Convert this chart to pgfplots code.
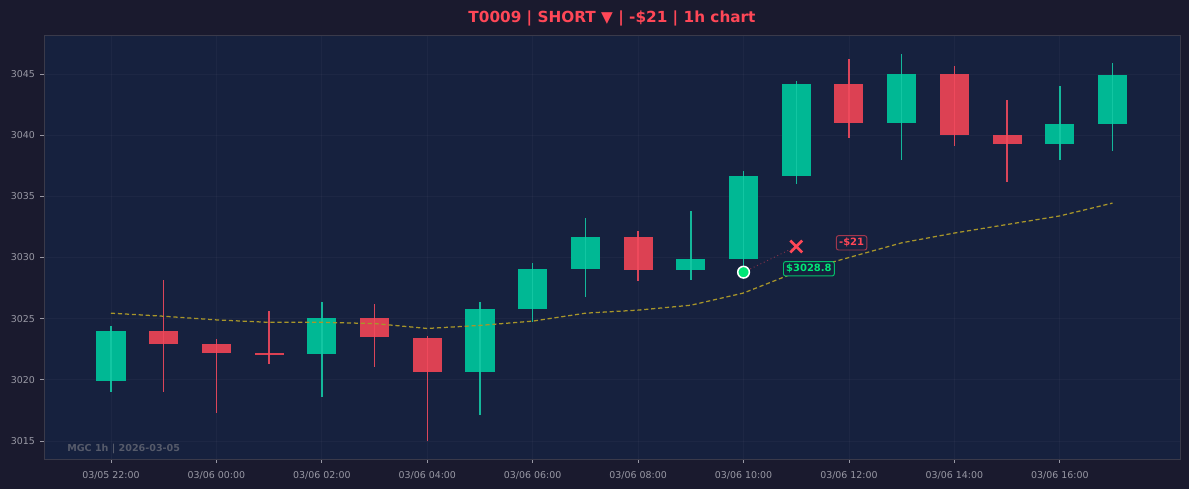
\documentclass[border=0pt]{standalone}
\usepackage{fontspec}
\setmainfont{DejaVu Sans}
\usepackage{pgfplots}
\pgfplotsset{compat=1.18}
\usepackage{pgfplotstable}
\definecolor{figbg}{HTML}{1A1A2E}
\definecolor{axbg}{HTML}{16213E}
\definecolor{spine}{HTML}{3A3A4A}
\definecolor{ticklab}{HTML}{9898A4}
\definecolor{cgreen}{HTML}{00B894}
\definecolor{cred}{HTML}{DC4153}
\definecolor{tred}{HTML}{FF4757}
\definecolor{egreen}{HTML}{00E676}
\definecolor{macol}{HTML}{A8962A}
\definecolor{wmcol}{HTML}{555A6A}
\definecolor{gwick}{HTML}{14C8A4}
\definecolor{rwick}{HTML}{F04A5E}

\pgfplotstableread{
x o h l c
0 3019.95 3024.4 3019.0 3024.0
4 3022.1 3026.4 3018.6 3025.1
7 3020.65 3026.4 3017.1 3025.8
8 3025.8 3029.6 3024.75 3029.1
9 3029.1 3033.2 3026.8 3031.7
11 3029.0 3033.8 3028.2 3029.9
12 3029.9 3037.1 3028.8 3036.7
13 3036.7 3044.4 3036.0 3044.2
15 3041.0 3046.65 3038.0 3045.0
18 3039.3 3044.0 3038.0 3040.9
19 3040.9 3045.9 3038.7 3044.9
}\greentab

\pgfplotstableread{
x o h l c
1 3024.0 3028.2 3019.0 3022.9
2 3022.9 3023.3 3017.3 3022.2
3 3022.2 3025.6 3021.3 3022.05
5 3025.1 3026.2 3021.1 3023.5
6 3023.4 3023.6 3015.0 3020.65
10 3031.7 3032.2 3028.1 3029.0
14 3044.2 3046.2 3039.8 3041.0
16 3045.0 3045.7 3039.1 3040.0
17 3040.0 3042.9 3036.2 3039.3
}\redtab

\pgfplotstableread{
x ma
0 3025.45
1 3025.2
2 3024.9
3 3024.7
4 3024.7
5 3024.6
6 3024.2
7 3024.45
8 3024.8
9 3025.45
10 3025.7
11 3026.1
12 3027.1
13 3028.8
14 3030.0
15 3031.2
16 3032.0
17 3032.7
18 3033.4
19 3034.45
}\matab

\begin{document}
\begin{tikzpicture}
\path[use as bounding box, fill=figbg] (-31.68pt,-21.6pt) rectangle (824.4pt,330.48pt);
\begin{axis}[
  at={(0,0)}, anchor=south west,
  scale only axis, width=817.92pt, height=305.28pt,
  xmin=-1.271, xmax=20.28, ymin=3013.53, ymax=3048.19,
  axis background/.style={fill=axbg},
  axis line style={draw=spine, line width=0.6pt},
  tick pos=left, tick align=outside, major tick length=3pt,
  tick style={draw=ticklab, line width=0.6pt},
  xtick={0,2,...,18},
  xticklabels={03/05 22:00,03/06 00:00,03/06 02:00,03/06 04:00,03/06 06:00,03/06 08:00,03/06 10:00,03/06 12:00,03/06 14:00,03/06 16:00},
  ytick={3015,3020,3025,3030,3035,3040,3045},
  scaled y ticks=false,
  /pgf/number format/1000 sep={},
  /pgf/number format/assume math mode=true,
  ticklabel style={font=\fontsize{6.8}{8}\selectfont, text=ticklab},
  xticklabel style={yshift=-2.6pt},
  grid=major,
  major grid style={draw=white, opacity=0.03, line width=0.6pt},
  title={T0009 | SHORT ▼ | -\$21 | 1h chart},
  title style={at={(0.5,1)}, anchor=center, yshift=5.8pt, font=\bfseries\fontsize{11}{13}\selectfont, text=tred},
]
% bodies
\addplot[draw=none, forget plot, error bars/.cd, y dir=both, y explicit, error mark=none,
  error bar style={draw=cgreen, line width=20.9pt}]
  table[x=x, y expr={(\thisrow{o}+\thisrow{c})/2}, y error expr={abs(\thisrow{c}-\thisrow{o})/2}] {\greentab};
\addplot[draw=none, forget plot, error bars/.cd, y dir=both, y explicit, error mark=none,
  error bar style={draw=cred, line width=20.9pt}]
  table[x=x, y expr={(\thisrow{o}+\thisrow{c})/2}, y error expr={abs(\thisrow{c}-\thisrow{o})/2}] {\redtab};
% wicks
\addplot[draw=none, forget plot, error bars/.cd, y dir=both, y explicit, error mark=none,
  error bar style={draw=gwick, draw opacity=0.9, line width=1.1pt}]
  table[x=x, y expr={(\thisrow{h}+\thisrow{l})/2}, y error expr={(\thisrow{h}-\thisrow{l})/2}] {\greentab};
\addplot[draw=none, forget plot, error bars/.cd, y dir=both, y explicit, error mark=none,
  error bar style={draw=rwick, draw opacity=0.9, line width=1.1pt}]
  table[x=x, y expr={(\thisrow{h}+\thisrow{l})/2}, y error expr={(\thisrow{h}-\thisrow{l})/2}] {\redtab};
% moving average
\addplot[draw=macol, line width=0.9pt, dash pattern=on 3pt off 2pt, mark=none] table[x=x, y=ma] {\matab};
% trade line
\addplot[draw=tred, draw opacity=0.45, line width=0.7pt, dotted, mark=none] coordinates {(12,3028.8) (13,3030.9)};
% entry
\addplot[only marks, mark=*, mark size=4.2pt, mark options={fill=egreen, draw=white, line width=1.1pt}] coordinates {(12,3028.8)};
% exit
\addplot[only marks, mark=x, mark size=6pt, mark options={draw=tred, line width=2pt}] coordinates {(13,3030.9)};
% labels
\node[fill=axbg, draw=egreen, draw opacity=0.8, rounded corners=1.5pt, line width=0.7pt, inner sep=1.9pt,
  text=egreen, font=\bfseries\fontsize{7.2}{8}\selectfont] at (axis cs:13.24,3029.08) {\$3028.8};
\node[fill=axbg, draw=tred, draw opacity=0.6, rounded corners=1.5pt, line width=0.7pt, inner sep=1.9pt,
  text=tred, font=\bfseries\fontsize{7.2}{8}\selectfont] at (axis cs:14.05,3031.2) {-\$21};
\node[anchor=west, inner sep=0pt, text=wmcol, font=\bfseries\fontsize{6.9}{8}\selectfont] at (axis cs:-0.835,3014.36) {MGC 1h | 2026-03-05};
\end{axis}
\end{tikzpicture}
\end{document}
